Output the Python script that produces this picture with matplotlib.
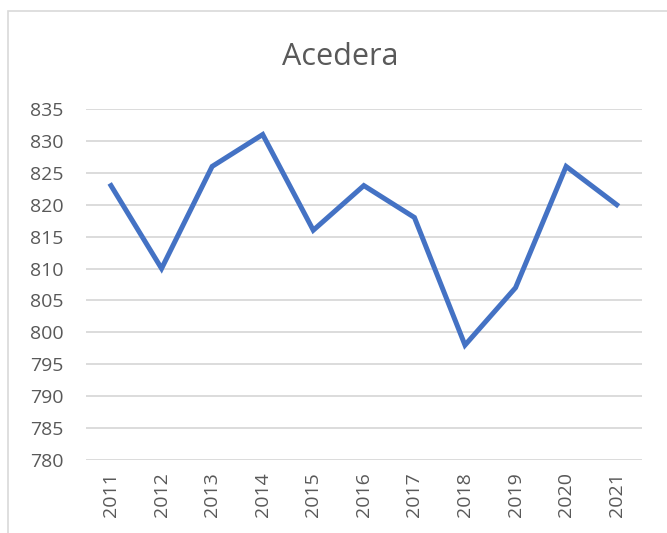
import matplotlib
matplotlib.use('Agg')
import matplotlib.pyplot as plt
from matplotlib.patches import Rectangle

# yearly values
years = ['2011', '2012', '2013', '2014', '2015', '2016', '2017', '2018', '2019', '2020', '2021']
values = [823, 810, 826, 831, 816, 823, 818, 798, 807, 826, 820]
y_ticks = list(range(780, 836, 5))

plt.rcParams['font.family'] = ['Open Sans', 'DejaVu Sans']

fig = plt.figure(figsize=(6.67, 5.33), dpi=100)
ax = fig.add_axes([0.1285, 0.137, 0.834, 0.6585])

x = list(range(len(years)))
ax.plot(x, values, color='#4472C4', linewidth=3.6, solid_joinstyle='miter')

ax.set_xlim(-0.5, len(years) - 0.5)
ax.set_ylim(780, 835)
ax.set_yticks(y_ticks)
ax.set_xticks(x)
ax.set_xticklabels(years, rotation=90)
ax.grid(axis='y', color='#D9D9D9', linewidth=1.3)
ax.set_axisbelow(True)
for s in ax.spines.values():
    s.set_visible(False)
ax.tick_params(length=0, labelsize=14, colors='#595959')
ax.tick_params(axis='y', pad=16)
ax.tick_params(axis='x', pad=9)

fig.text(0.51, 0.893, 'Acedera', ha='center', va='center', fontsize=22, color='#595959')

# chart border
fig.patches.append(Rectangle((8 / 667, -0.1), 1.0, 1.1 - 11 / 533, transform=fig.transFigure,
                             fill=False, edgecolor='#D9D9D9', linewidth=1.2))

fig.savefig('out.png', dpi=100)
